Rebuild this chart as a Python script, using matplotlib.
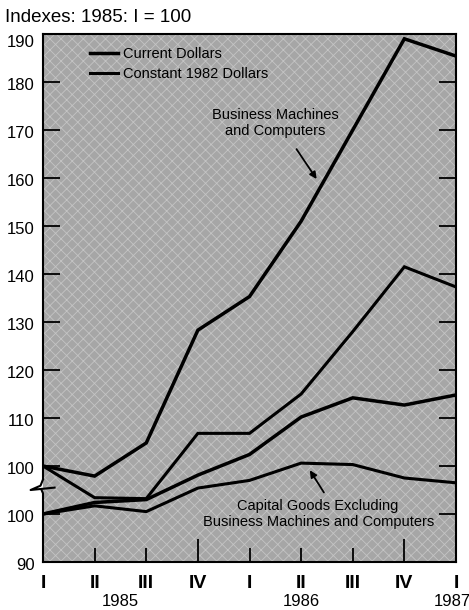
import numpy as np
import matplotlib.pyplot as plt
import matplotlib.transforms as mtransforms

plt.rcParams['font.family'] = ['Liberation Sans', 'DejaVu Sans']
plt.rcParams['hatch.linewidth'] = 0.6

# ===== data =====
quarters = ['I', 'II', 'III', 'IV', 'I', 'II', 'III', 'IV', 'I']
years = ['1985', '1986', '1987']
year_pos = [1.5, 5, 7.92]

# upper scale (Business Machines and Computers), 1985:I = 100
bm_current = [100, 97.9, 104.8, 128.3, 135.3, 151.0, 170.0, 189.0, 185.4]
bm_constant = [100, 93.4, 93.2, 106.8, 106.8, 115.0, 128.0, 141.5, 137.3]
# lower scale (Capital Goods excl. BM&C), drawn 10 points lower
cg_current = [100, 102.4, 103.0, 108.1, 112.4, 120.2, 124.2, 122.7, 124.8]
cg_constant = [100, 101.7, 100.5, 105.4, 107.0, 110.6, 110.3, 107.5, 106.5]
lower_shift = 10

ytick_pos = [80, 90, 100, 110, 120, 130, 140, 150, 160, 170, 180, 190]
ytick_lab = ['90', '100', '100', '110', '120', '130', '140', '150', '160', '170', '180', '190']

x = np.arange(len(quarters))

fig = plt.figure(figsize=(4.69, 6.10), dpi=100)
ax = fig.add_axes([43 / 469, 1 - 562 / 610, 413 / 469, 528 / 610])
ax.set_facecolor('#a6a6a6')
bg = plt.Rectangle((0, 0), 1, 1, transform=ax.transAxes, facecolor='none',
                   edgecolor='#c4c4c4', hatch='xxx', lw=0, zorder=0)
ax.add_patch(bg)

lc, = ax.plot(x, bm_current, color='black', lw=2.5, solid_joinstyle='miter', zorder=3)
lk, = ax.plot(x, bm_constant, color='black', lw=2.2, solid_joinstyle='miter', zorder=3)
ax.plot(x, np.array(cg_current) - lower_shift, color='black', lw=2.5, solid_joinstyle='miter', zorder=3)
ax.plot(x, np.array(cg_constant) - lower_shift, color='black', lw=2.2, solid_joinstyle='miter', zorder=3)

ax.set_xlim(0, 8)
ax.set_ylim(80, 190)

# x ticks: IV marks are longer
major_idx = [i for i in range(len(quarters)) if quarters[i] != 'IV']
minor_idx = [i for i in range(len(quarters)) if quarters[i] == 'IV']
ax.set_xticks(major_idx, [quarters[i] for i in major_idx])
ax.set_xticks(minor_idx, [quarters[i] for i in minor_idx], minor=True)
ax.tick_params(axis='x', which='major', direction='in', length=10, width=1.3, pad=9,
               labelsize=14)
ax.tick_params(axis='x', which='minor', direction='in', length=16.5, width=1.3, pad=9,
               labelsize=14)
for t in ax.get_xticklabels(which='both'):
    t.set_fontweight('bold')

ax.set_yticks(ytick_pos, ytick_lab)
ax.tick_params(axis='y', direction='in', length=12.5, width=1.3, pad=6, labelsize=12,
               right=True)
# labels sit a little below their ticks in the original
for t in ax.get_yticklabels():
    dy = -7 if t.get_text() == '190' else -2.5
    t.set_transform(t.get_transform() + mtransforms.ScaledTranslation(0, dy / 100, fig.dpi_scale_trans))

trans = mtransforms.blended_transform_factory(ax.transData, ax.transAxes)
for yr, xp in zip(years, year_pos):
    ax.text(xp, -0.074, yr, transform=trans, ha='center', va='center', fontsize=12)

# spines + axis break
for s in ['top', 'right', 'bottom']:
    ax.spines[s].set_linewidth(1.5)
ax.spines['left'].set_visible(False)
ltrans = mtransforms.blended_transform_factory(ax.transAxes, ax.transData)
ax.plot([0, 0], [190, 97.2], color='black', lw=1.5, transform=ltrans, clip_on=False, zorder=5)
ax.plot([0, -0.006, -0.03, 0.028], [97.2, 95.9, 95.0, 95.5], color='black', lw=1.5,
        transform=ltrans, clip_on=False, zorder=5)
ax.plot([-0.004, 0, 0], [95.1, 94.3, 80], color='black', lw=1.5, transform=ltrans,
        clip_on=False, zorder=5)

# legend
ax.legend([lc, lk], ['Current Dollars', 'Constant 1982 Dollars'], loc='upper left',
          bbox_to_anchor=(0.115, 0.975), frameon=False, fontsize=10.5, handlelength=1.9,
          handletextpad=0.3, labelspacing=0.4, borderpad=0, borderaxespad=0)

# annotations
ax.text(4.5, 171.4, 'Business Machines\nand Computers', ha='center', va='center',
        fontsize=10.5, linespacing=1.15)
ax.annotate('', xy=(5.33, 159.3), xytext=(4.88, 166.5),
            arrowprops=dict(arrowstyle='-|>', color='black', lw=1.3, mutation_scale=10))
ax.text(5.33, 90.0, 'Capital Goods Excluding\nBusiness Machines and Computers', ha='center',
        va='center', fontsize=10.5, linespacing=1.15)
ax.annotate('', xy=(5.14, 99.6), xytext=(5.47, 94.0),
            arrowprops=dict(arrowstyle='-|>', color='black', lw=1.3, mutation_scale=10))

fig.text(5 / 469, 1 - 17 / 610, 'Indexes: 1985: I = 100', ha='left', va='center',
         fontsize=13.5)

plt.savefig('out.png', dpi=100)
plt.close()
